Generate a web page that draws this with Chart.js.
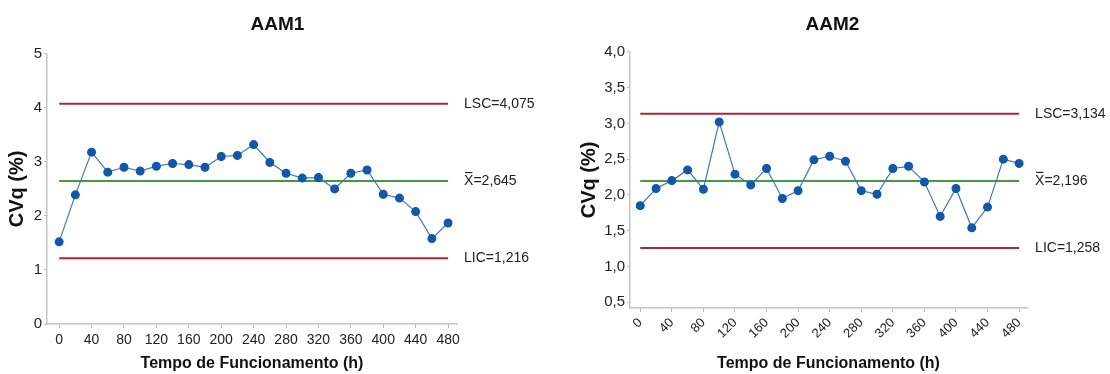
<!DOCTYPE html>
<html>
<head>
<meta charset="utf-8">
<script src="https://cdn.jsdelivr.net/npm/chart.js@4.4.1/dist/chart.umd.min.js"></script>
<style>
  body { margin: 0; background: #fff; }
  .wrap { position: absolute; top: 0; width: 555px; height: 374px; }
</style>
</head>
<body>
<div class="wrap" style="left:0"><canvas id="chart1" width="555" height="374"></canvas></div>
<div class="wrap" style="left:555px"><canvas id="chart2" width="555" height="374"></canvas></div>
<script>
// hours of operation
var hours = [0, 20, 40, 60, 80, 100, 120, 140, 160, 180, 200, 220, 240,
             260, 280, 300, 320, 340, 360, 380, 400, 420, 440, 460, 480];
var aam1Values = [1.52, 2.39, 3.18, 2.81, 2.90, 2.83, 2.92, 2.97, 2.95, 2.90, 3.10, 3.12, 3.32,
                  2.99, 2.79, 2.70, 2.71, 2.50, 2.79, 2.85, 2.40, 2.33, 2.08, 1.58, 1.87];
var aam2Values = [1.85, 2.09, 2.20, 2.35, 2.08, 3.02, 2.29, 2.14, 2.37, 1.95, 2.06, 2.49, 2.54,
                  2.47, 2.06, 2.01, 2.37, 2.40, 2.18, 1.70, 2.09, 1.54, 1.83, 2.50, 2.44];
var limitNames = ['LSC', 'X', 'LIC'];
var aam1Limits = [4.075, 2.645, 1.216];
var aam2Limits = [3.134, 2.196, 1.258];
var xTicks = [0, 40, 80, 120, 160, 200, 240, 280, 320, 360, 400, 440, 480];
var aam1YTicks = [0, 1, 2, 3, 4, 5];
var aam2YTicks = [0.5, 1.0, 1.5, 2.0, 2.5, 3.0, 3.5, 4.0];

Chart.defaults.font.family = '"Liberation Sans", Arial, sans-serif';
Chart.defaults.color = '#222';

var limitColors = ['#a8283a', '#3e9d3e', '#a8283a'];

// labels at right end of control lines
var limitLabels = {
    id: 'limitLabels',
    afterDatasetsDraw: function(chart) {
        var ctx = chart.ctx;
        var lims = chart.options.plugins.limitLabels.limits;
        var x = chart.scales.x.getPixelForValue(480) + chart.options.plugins.limitLabels.gap;
        ctx.save();
        ctx.font = '14px "Liberation Sans", Arial, sans-serif';
        ctx.fillStyle = '#222';
        ctx.textBaseline = 'middle';
        for (var i = 0; i < lims.length; i++) {
            var y = chart.scales.y.getPixelForValue(lims[i]);
            var txt = limitNames[i] + '=' + lims[i].toFixed(3).replace('.', ',');
            ctx.fillText(txt, x, y);
            if (limitNames[i] == 'X') {
                // bar over the X
                var w = ctx.measureText('X').width;
                ctx.strokeStyle = '#222';
                ctx.lineWidth = 1.2;
                ctx.beginPath();
                ctx.moveTo(x + 1, y - 8.5);
                ctx.lineTo(x + w - 1, y - 8.5);
                ctx.stroke();
            }
        }
        ctx.restore();
    }
};

function makeChart(id, title, values, limits, yTicks, g) {
    var datasets = [];
    for (var i = 0; i < limits.length; i++) {
        datasets.push({
            data: [{x: 0, y: limits[i]}, {x: 480, y: limits[i]}],
            borderColor: limitColors[i],
            borderWidth: 2,
            pointRadius: 0,
            order: 2
        });
    }
    datasets.push({
        data: hours.map(function(h, k) { return {x: h, y: values[k]}; }),
        borderColor: '#3f78bd',
        borderWidth: 1.2,
        pointRadius: 3.9,
        pointBackgroundColor: '#1257a8',
        pointBorderColor: '#1257a8',
        order: 1
    });

    return new Chart(document.getElementById(id).getContext('2d'), {
        type: 'line',
        data: {datasets: datasets},
        plugins: [limitLabels],
        options: {
            responsive: false,
            animation: false,
            layout: {padding: 0},
            plugins: {
                legend: {display: false},
                tooltip: {enabled: false},
                title: {
                    display: true,
                    text: title,
                    color: '#111',
                    font: {size: 19, weight: 'bold'},
                    padding: {top: 13, bottom: g.titleBottom}
                },
                limitLabels: {limits: limits, gap: 16}
            },
            scales: {
                x: {
                    type: 'linear',
                    min: g.xMin,
                    max: g.xMax,
                    afterFit: function(s) { s.height = g.xHeight; },
                    afterBuildTicks: function(s) {
                        s.ticks = xTicks.map(function(v) { return {value: v}; });
                    },
                    ticks: {
                        font: {size: g.xTickSize},
                        color: '#222',
                        padding: g.xTickPad,
                        minRotation: g.rot,
                        maxRotation: g.rot,
                        autoSkip: false
                    },
                    grid: {display: true, drawOnChartArea: false, tickLength: 4, color: '#bbb'},
                    border: {display: true, color: '#c4c4c4', width: 1.5},
                    title: {
                        display: true,
                        text: 'Tempo de Funcionamento (h)',
                        color: '#111',
                        font: {size: 16, weight: 'bold'},
                        padding: {top: 0, bottom: 1}
                    }
                },
                y: {
                    min: g.yMin,
                    max: g.yMax,
                    afterFit: function(s) { s.width = g.yWidth; },
                    afterBuildTicks: function(s) {
                        s.ticks = yTicks.map(function(v) { return {value: v}; });
                    },
                    ticks: {
                        font: {size: 15},
                        color: '#222',
                        padding: 2,
                        callback: function(v) { return g.dec ? v.toFixed(1).replace('.', ',') : String(v); }
                    },
                    grid: {display: true, drawOnChartArea: false, tickLength: 3, color: '#bbb'},
                    border: {display: true, color: '#c4c4c4', width: 1.5},
                    title: {
                        display: true,
                        text: 'CVq (%)',
                        color: '#111',
                        font: {size: 20, weight: 'bold'},
                        padding: {top: g.yTitlePad, bottom: 0}
                    }
                },
                // empty right axis only reserves room for the limit labels
                side: {
                    position: 'right',
                    display: true,
                    afterFit: function(s) { s.width = g.right; },
                    ticks: {display: false},
                    grid: {display: false},
                    border: {display: false}
                }
            }
        }
    });
}

makeChart('chart1', 'AAM1', aam1Values, aam1Limits, aam1YTicks, {
    right: 98, titleBottom: 18, xMin: -15, xMax: 491, xHeight: 50, yWidth: 47,
    yMin: 0, yMax: 5, yTitlePad: 5, rot: 0, xTickPad: 4, xTickSize: 14, dec: false
});
makeChart('chart2', 'AAM2', aam2Values, aam2Limits, aam2YTicks, {
    right: 83, titleBottom: 16, xMin: -13, xMax: 490, xHeight: 66, yWidth: 75,
    yMin: 0.42, yMax: 4.0, yTitlePad: 22, rot: 45, xTickPad: 3, xTickSize: 13, dec: true
});
</script>
</body>
</html>
